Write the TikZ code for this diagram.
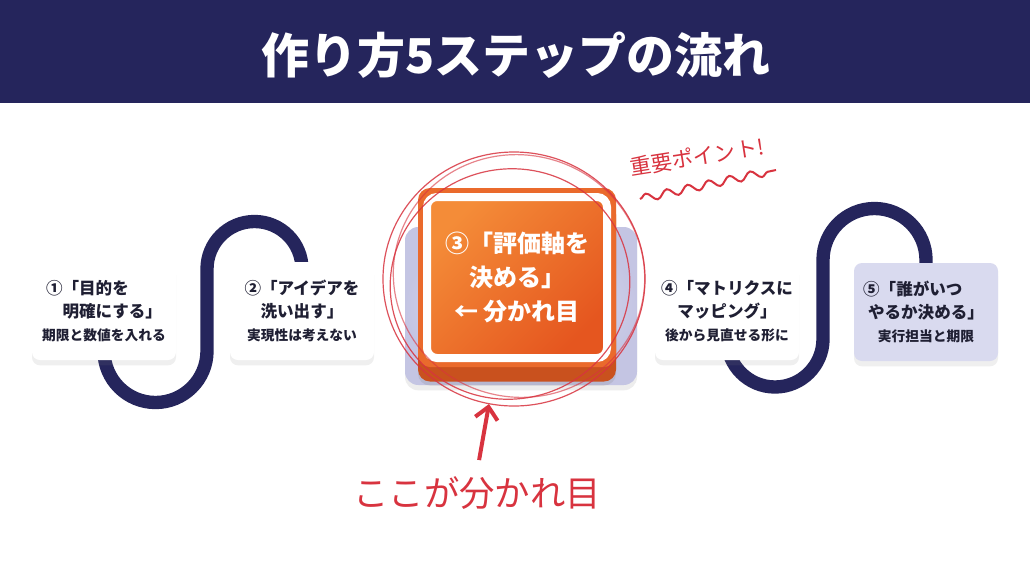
\documentclass[tikz,border=0pt]{standalone}
\usepackage{fontspec}
\setmainfont{Noto Sans CJK JP}
\usepackage{tikz}
\usetikzlibrary{arrows.meta,shadows,backgrounds,decorations.pathmorphing}

\definecolor{bandnavy}{HTML}{25255C}
\definecolor{stepink}{HTML}{1F1F33}
\definecolor{rimorange}{HTML}{EA6A2C}
\definecolor{baseorange}{HTML}{C9511E}
\definecolor{faceorangeA}{HTML}{F48C38}
\definecolor{faceorangeB}{HTML}{E5561F}
\definecolor{lavback}{HTML}{C4C5E3}
\definecolor{lavlight}{HTML}{E6E7F5}
\definecolor{lavcard}{HTML}{D9DAEF}
\definecolor{penred}{HTML}{D8333F}

\newcommand\stephead{\fontsize{12.4}{17.25}\selectfont\bfseries}
\newcommand\stepnote{\fontsize{10.3}{17.25}\selectfont\bfseries}

\tikzset{
  stepcard/.style={fill=white, rounded corners=6pt, minimum width=108pt, minimum height=73.5pt,
    drop shadow={opacity=.12, shadow xshift=0pt, shadow yshift=-4pt},
    align=center, text=stepink, inner sep=0pt, font=\stephead},
  lastcard/.style={stepcard, fill=lavcard},
  backtile/.style={rounded corners=10pt, minimum width=174pt, minimum height=118.5pt,
    inner color=lavlight, outer color=lavback,
    drop shadow={opacity=.14, shadow xshift=0pt, shadow yshift=-4pt}},
  c3base/.style={fill=baseorange, rounded corners=9pt, minimum width=148.5pt, minimum height=134.25pt,
    drop shadow={opacity=.2, shadow xshift=0pt, shadow yshift=-3pt}},
  c3rim/.style={fill=rimorange, rounded corners=9pt, minimum width=148.5pt, minimum height=134.25pt},
  c3face/.style={draw=white, line width=6pt, rounded corners=7.5pt, minimum width=135pt, minimum height=120.75pt,
    top color=faceorangeA, bottom color=faceorangeB, shading angle=45,
    align=center, text=white, font=\fontsize{18}{25.5}\selectfont\bfseries},
  pathline/.style={bandnavy, line width=10pt},
  redpen/.style={penred, line width=.9pt, opacity=.85},
  penarrow/.style={penred, line width=3pt, -{Straight Barb[length=9pt,width=17pt]}, shorten <=9pt},
  penwave/.style={penred, line width=1.5pt, decorate, decoration={snake, amplitude=3pt, segment length=16pt}},
}

\begin{document}
\begin{tikzpicture}[x=0.75pt,y=0.75pt,yscale=-1,xscale=1]
\useasboundingbox (0,0) rectangle (1030,575);

% header band
\fill[bandnavy] (0,0) rectangle (1030,103);
\node[text=white, font=\fontsize{36}{40}\selectfont\bfseries] (title) at (516,55) {作り方5ステップの流れ};

% step 3 block
\node[backtile] (c3back) at (521,306) {};
\node[c3base] (c3low) at (517,292) {};
\node[c3rim] (c3) at (517,277.5) {};
\node[c3face] (c3txt) at (c3.center) {③「評価軸を\\決める」\\← 分かれ目};

% step cards
\node[stepcard] (c1) at (104,311) {①「目的を\hspace*{2em}\\\hspace*{1em}明確にする」\\\stepnote 期限と数値を入れる};
\node[stepcard] (c2) at (302,311) {②「アイデアを\\洗い出す」\\\stepnote 実現性は考えない};
\node[stepcard] (c4) at (727,311) {④「マトリクスに\\マッピング」\\\stepnote 後から見直せる形に};
\node[lastcard] (c5) at (926,312) {⑤「誰がいつ\hspace*{1.6em}\\やるか決める」\\\stepnote 実行担当と期限};

% road between cards
\begin{scope}[on background layer]
\fill[white] (0,103) rectangle (1030,575);
\draw[pathline] (c1.center) -- (104,351) arc (180:0:51.5) -- (207,269) arc (180:360:47.5) -- (c2.center);
\draw[pathline] (c4.center) -- (727,339) arc (180:0:48) -- (823,260) arc (180:360:51.5) -- (c5.center);
\end{scope}

% hand drawn marks
\draw[redpen] (514,279) ellipse [x radius=131, y radius=127];
\draw[redpen, rotate around={-12:(510,284)}] (510,284) ellipse [x radius=120, y radius=115];
\draw[redpen, opacity=.6, rotate around={15:(519,276)}] (519,276) ellipse [x radius=126, y radius=121];

\node[text=penred, rotate=9, font=\fontsize{16}{19}\selectfont] (keypt) at (697,157) {重要ポイント!};
\coordinate (wv1) at (640,199);
\coordinate (wv2) at (776,170);
\draw[penwave] (wv1) -- (wv2);

\node[text=penred, font=\fontsize{26.5}{31}\selectfont] (hint) at (477,493) {ここが分かれ目};
\coordinate (tip) at (489,404);
\draw[penarrow] (hint.north) -- (tip);

\end{tikzpicture}
\end{document}
